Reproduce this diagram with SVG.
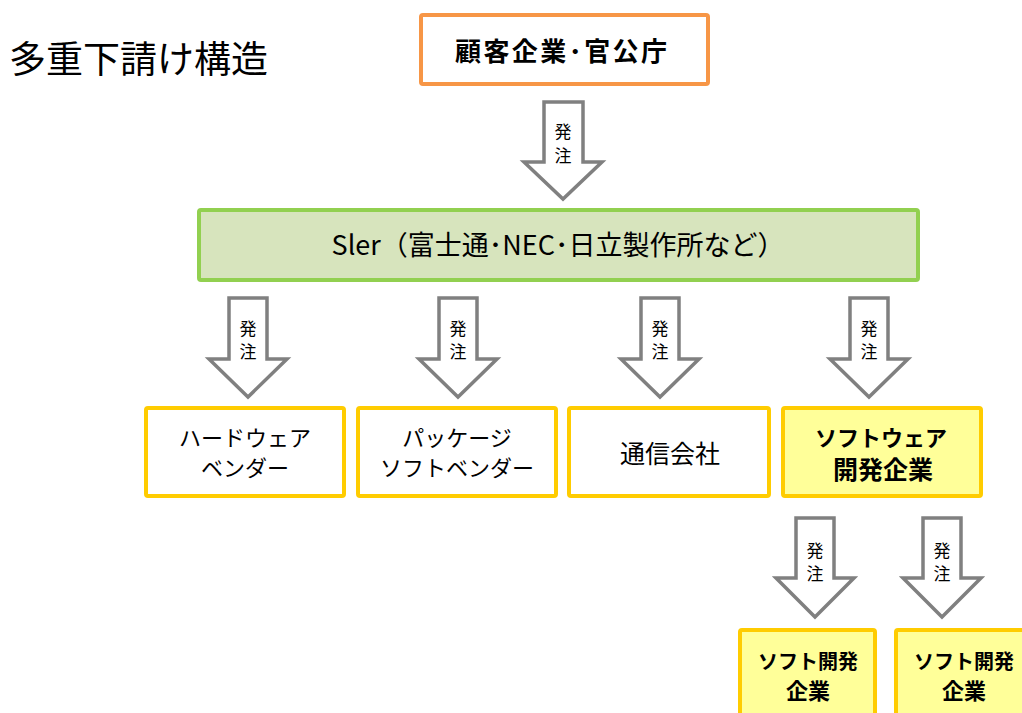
<svg xmlns="http://www.w3.org/2000/svg" width="1022" height="713" viewBox="0 0 1022 713">
<style>
text{font-family:"Noto Sans CJK JP","Noto Sans",sans-serif;fill:#000;text-anchor:middle}
.arrow{fill:#fff;stroke:#808080;stroke-width:3.5;stroke-linejoin:miter}
.lbl{font-size:17px}
.box{stroke-width:4}
.y{fill:#fff;stroke:#FFCC00}
.yy{fill:#FFFF99;stroke:#FFCC00}
.t{font-size:22px}
.k{font-size:25px}
.b{font-weight:bold}
</style>
<rect width="1022" height="713" fill="#fff"/>
<text x="9" y="73" style="font-size:37px;text-anchor:start">多重下請け構造</text>
<g id="connectors">
<g><path class="arrow" d="M544,102 H583 V162 H602 L563,199 L524,162 H544 Z"/><text class="lbl" x="563" y="138">発</text><text class="lbl" x="563" y="162">注</text></g>
<g><path class="arrow" d="M229,298 H267 V359 H287 L248,397 L209,359 H229 Z"/><text class="lbl" x="248" y="335">発</text><text class="lbl" x="248" y="358">注</text></g>
<g><path class="arrow" d="M439,298 H477 V359 H497 L458,397 L419,359 H439 Z"/><text class="lbl" x="458" y="335">発</text><text class="lbl" x="458" y="358">注</text></g>
<g><path class="arrow" d="M641,298 H679 V359 H699 L660,397 L621,359 H641 Z"/><text class="lbl" x="660" y="335">発</text><text class="lbl" x="660" y="358">注</text></g>
<g><path class="arrow" d="M850,298 H888 V359 H908 L869,397 L830,359 H850 Z"/><text class="lbl" x="869" y="335">発</text><text class="lbl" x="869" y="358">注</text></g>
<g><path class="arrow" d="M796,518 H834 V578 H854 L815,617 L776,578 H796 Z"/><text class="lbl" x="815" y="557">発</text><text class="lbl" x="815" y="580">注</text></g>
<g><path class="arrow" d="M923,518 H961 V578 H981 L942,617 L903,578 H923 Z"/><text class="lbl" x="942" y="557">発</text><text class="lbl" x="942" y="580">注</text></g>
</g>
<g id="customer"><rect class="box" x="421" y="15" width="287" height="69" rx="2" fill="#fff" stroke="#F79646"/><text class="b" x="561" y="61" style="font-size:26px" textLength="212" lengthAdjust="spacing">顧客企業･官公庁</text></g>
<g id="sier"><rect class="box" x="199" y="210" width="719" height="70" rx="2" fill="#D7E4BD" stroke="#92D050"/><text x="558" y="255" style="font-size:27px">Sler（富士通･NEC･日立製作所など）</text></g>
<g id="hardware"><rect class="box y" x="146" y="408" width="198" height="88" rx="2"/><text class="t" x="245" y="446">ハードウェア</text><text class="t" x="245" y="476">ベンダー</text></g>
<g id="package"><rect class="box y" x="358" y="408" width="198" height="88" rx="2"/><text class="t" x="457" y="446">パッケージ</text><text class="t" x="457" y="476">ソフトベンダー</text></g>
<g id="telecom"><rect class="box y" x="569" y="408" width="200" height="88" rx="2"/><text class="k" x="670" y="463">通信会社</text></g>
<g id="software"><rect class="box yy" x="783" y="408" width="198" height="88" rx="2"/><text class="t b" x="881" y="446">ソフトウェア</text><text class="k b" x="883" y="479">開発企業</text></g>
<g id="soft1"><rect class="box yy" x="740" y="630" width="135" height="100" rx="2"/><text class="b" x="808" y="669" style="font-size:20px">ソフト開発</text><text class="b" x="808" y="699" style="font-size:22px">企業</text></g>
<g id="soft2"><rect class="box yy" x="896" y="630" width="140" height="100" rx="2"/><text class="b" x="964" y="669" style="font-size:20px">ソフト開発</text><text class="b" x="964" y="699" style="font-size:22px">企業</text></g>
</svg>
